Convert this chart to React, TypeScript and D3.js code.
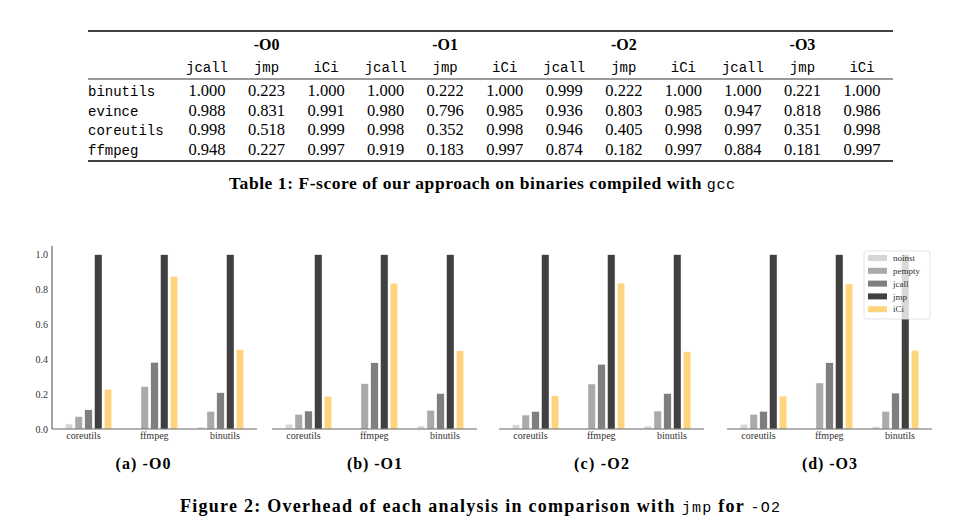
import React from 'react'
import { scaleBand, scaleLinear, scalePoint } from 'd3'

// table 1
const programs = ['binutils', 'evince', 'coreutils', 'ffmpeg']
const levels = ['-O0', '-O1', '-O2', '-O3']
const columns = ['jcall', 'jmp', 'iCi']
const scoreRows = [
  ['1.000', '0.223', '1.000', '1.000', '0.222', '1.000', '0.999', '0.222', '1.000', '1.000', '0.221', '1.000'],
  ['0.988', '0.831', '0.991', '0.980', '0.796', '0.985', '0.936', '0.803', '0.985', '0.947', '0.818', '0.986'],
  ['0.998', '0.518', '0.999', '0.998', '0.352', '0.998', '0.946', '0.405', '0.998', '0.997', '0.351', '0.998'],
  ['0.948', '0.227', '0.997', '0.919', '0.183', '0.997', '0.874', '0.182', '0.997', '0.884', '0.181', '0.997'],
]

// figure 2
const groups = ['coreutils', 'ffmpeg', 'binutils']
const series = ['noinst', 'pempty', 'jcall', 'jmp', 'iCi']
const colors = ['#d6d6d6', '#aaaaaa', '#7f7f7f', '#404040', '#ffd47f']
const yTicks = [0, 0.2, 0.4, 0.6, 0.8, 1.0]
const subLabels = ['(a) -O0', '(b) -O1', '(c) -O2', '(d) -O3']

const o0 = [
  [0.029, 0.003, 0.011],
  [0.071, 0.243, 0.101],
  [0.11, 0.382, 0.208],
  [1.0, 1.0, 1.0],
  [0.228, 0.876, 0.455],
]
const o1 = [
  [0.027, 0.002, 0.017],
  [0.084, 0.26, 0.107],
  [0.103, 0.38, 0.203],
  [1.0, 1.0, 1.0],
  [0.187, 0.836, 0.449],
]
const o2 = [
  [0.025, 0.002, 0.017],
  [0.08, 0.258, 0.103],
  [0.1, 0.371, 0.203],
  [1.0, 1.0, 1.0],
  [0.19, 0.837, 0.444],
]
const o3 = [
  [0.027, 0.002, 0.013],
  [0.084, 0.264, 0.101],
  [0.101, 0.38, 0.206],
  [1.0, 1.0, 1.0],
  [0.189, 0.832, 0.451],
]
const panels = [o0, o1, o2, o3]

const serif = '"Liberation Serif", "DejaVu Serif", serif'
const mono = '"Liberation Mono", "DejaVu Sans Mono", monospace'

function d3range(n: number) {
  return Array.from({ length: n }, (_, i) => i)
}

function Table() {
  const colX = scalePoint<number>()
    .domain(d3range(12))
    .range([207, 862])
  const left = 88, right = 893
  return (
    <g>
      <line x1={left} x2={right} y1={31} y2={31} stroke="#000" strokeWidth={1.3} />
      {levels.map((l, i) => (
        <text key={l} x={colX(i * 3 + 1)} y={50} textAnchor="middle"
          fontFamily={serif} fontWeight="bold" fontSize={16}>{l}</text>
      ))}
      {levels.map((l, i) => columns.map((c, j) => (
        <text key={l + c} x={colX(i * 3 + j)} y={72} textAnchor="middle"
          fontFamily={mono} fontSize={14}>{c}</text>
      )))}
      <line x1={left} x2={right} y1={79} y2={79} stroke="#000" strokeWidth={0.8} />
      {programs.map((p, r) => (
        <g key={p}>
          <text x={left} y={96 + r * 19.7} fontFamily={mono} fontSize={14}>{p}</text>
          {scoreRows[r].map((v, k) => (
            <text key={k} x={colX(k)} y={96 + r * 19.7} textAnchor="middle"
              fontFamily={serif} fontSize={16.5}>{v}</text>
          ))}
        </g>
      ))}
      <line x1={left} x2={right} y1={161} y2={161} stroke="#000" strokeWidth={1.3} />
      <text x={229} y={189} textLength={506} lengthAdjust="spacing"
        fontFamily={serif} fontWeight="bold" fontSize={17.5}>
        Table 1: F-score of our approach on binaries compiled with <tspan fontFamily={mono} fontWeight="normal" fontSize={15}>gcc</tspan>
      </text>
    </g>
  )
}

const axisStarts = [52, 272, 499, 727]
const panelW = 205
const y = scaleLinear().domain([0, 1.05]).range([429, 246])
const gx = scaleBand().domain(groups).range([3.5, 201.5])
const bx = scaleBand().domain(series).range([-23.3, 23.3]).paddingInner(0.24)
const lx = scalePoint().domain(groups).range([31.5, 173])

function Panel({ data, idx }: { data: number[][], idx: number }) {
  const x0 = axisStarts[idx]
  const capX = idx === 0 ? 91 : panelW / 2
  return (
    <g transform={`translate(${x0},0)`}>
      {series.map((s, si) => groups.map((g, gi) => {
        const v = data[si][gi]
        const cx = (gx(g) as number) + gx.bandwidth() / 2 + (bx(s) as number)
        return (
          <rect key={s + g} x={cx} y={y(v)} width={bx.bandwidth()} height={y(0) - y(v)}
            fill={colors[si]} stroke="#fff" strokeWidth={0.4} />
        )
      }))}
      <line x1={0} x2={panelW} y1={y(0)} y2={y(0)} stroke="#666" strokeWidth={1.2} />
      {idx === 0 && (
        <g>
          <line x1={0} x2={0} y1={y(0)} y2={y(1.05)} stroke="#666" strokeWidth={1.2} />
          {yTicks.map(t => (
            <text key={t} x={-4} y={y(t)} dy="0.35em" textAnchor="end"
              fontFamily={serif} fontSize={10} fill="#333">{t.toFixed(1)}</text>
          ))}
        </g>
      )}
      {groups.map(g => (
        <text key={g} x={lx(g)} y={439} textAnchor="middle"
          fontFamily={serif} fontSize={10} fill="#333">{g}</text>
      ))}
      {idx === 3 && (
        <g transform="translate(137,251)">
          <rect x={0} y={0} width={66} height={68} rx={2} fill="#fff" fillOpacity={0.8} stroke="#ddd" strokeWidth={0.8} />
          {series.map((s, si) => (
            <g key={s} transform={`translate(0,${7 + si * 12.8})`}>
              <rect x={4} y={-3} width={19} height={6} fill={colors[si]} />
              <text x={29} y={0} dy="0.35em" fontFamily={serif} fontSize={9} fill="#333">{s}</text>
            </g>
          ))}
        </g>
      )}
      <text x={capX - 27.5} y={469} textLength={55} lengthAdjust="spacing"
        fontFamily={serif} fontWeight="bold" fontSize={16}>{subLabels[idx]}</text>
    </g>
  )
}

export default function App() {
  return (
    <svg width={964} height={532} style={{ position: 'absolute', left: 0, top: 0, background: '#fff' }}>
      <rect width={964} height={532} fill="#fff" />
      <Table />
      {panels.map((d, i) => <Panel key={i} data={d} idx={i} />)}
      <text x={180} y={512} textLength={600} lengthAdjust="spacing"
        fontFamily={serif} fontWeight="bold" fontSize={18}>
        Figure 2: Overhead of each analysis in comparison with <tspan fontFamily={mono} fontWeight="normal" fontSize={15}>jmp</tspan> for <tspan fontFamily={mono} fontWeight="normal" fontSize={15}>-O2</tspan>
      </text>
    </svg>
  )
}
